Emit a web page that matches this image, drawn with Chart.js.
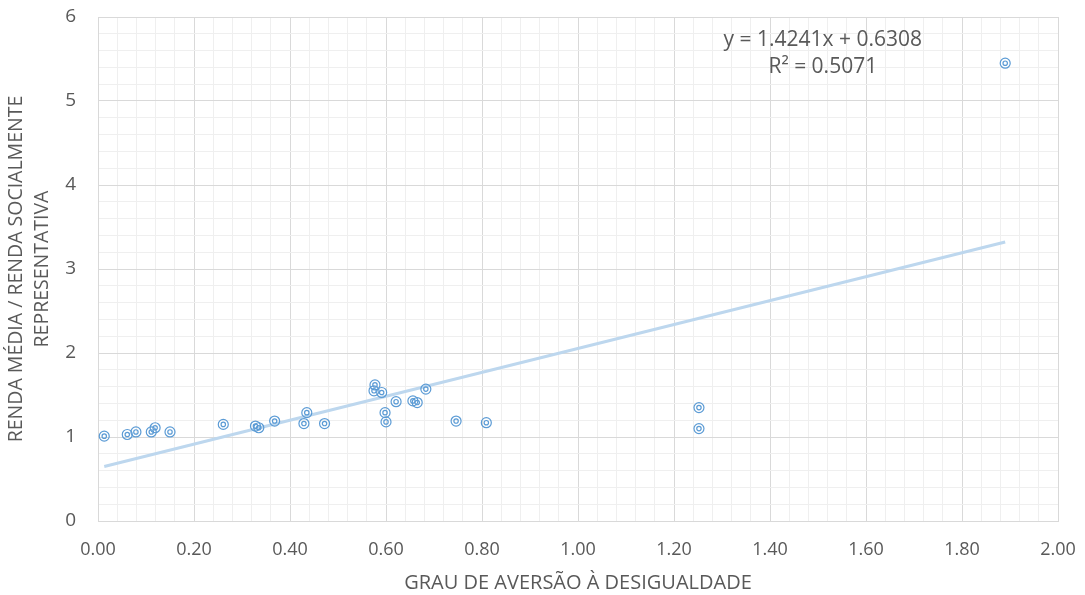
<!DOCTYPE html>
<html>
<head>
<meta charset="utf-8">
<script src="https://cdn.jsdelivr.net/npm/chart.js@4"></script>
<style>
  html, body { margin: 0; padding: 0; background: #fff; }
  #wrap { width: 1085px; height: 595px; }
</style>
</head>
<body>
<div id="wrap"><canvas id="stage"></canvas></div>
<script>
// valores
const aversao = [0.013, 0.061, 0.079, 0.111, 0.119, 0.150, 0.261, 0.328, 0.335, 0.368,
                 0.429, 0.435, 0.472, 0.577, 0.575, 0.591, 0.598, 0.600, 0.621, 0.656,
                 0.665, 0.683, 0.746, 0.809, 1.252, 1.252, 1.890];
const razaoRenda = [1.01, 1.03, 1.06, 1.06, 1.11, 1.06, 1.15, 1.13, 1.11, 1.19,
                    1.16, 1.29, 1.16, 1.62, 1.55, 1.53, 1.29, 1.18, 1.42, 1.43,
                    1.41, 1.57, 1.19, 1.17, 1.35, 1.10, 5.45];
const slope = 1.4241;
const intercept = 0.6308;
const r2 = 0.5071;
const xLimits = [0, 2];
const yLimits = [0, 6];

const pts = aversao.map((x, i) => ({ x: x, y: razaoRenda[i] }));
const xMin = Math.min(...aversao), xMax = Math.max(...aversao);
const trend = [
    { x: xMin, y: slope * xMin + intercept },
    { x: xMax, y: slope * xMax + intercept }
];

const FONT = "'Open Sans', 'Noto Sans', sans-serif";
const TXT = '#595959';

const eqLabel = {
    id: 'eqLabel',
    afterDatasetsDraw(chart) {
        const ctx = chart.ctx;
        const xs = chart.scales.x, ys = chart.scales.y;
        const cx = xs.getPixelForValue(1.51);
        ctx.save();
        ctx.fillStyle = TXT;
        ctx.font = '21px ' + FONT;
        ctx.textAlign = 'center';
        ctx.textBaseline = 'middle';
        ctx.fillText('y = ' + slope.toFixed(4) + 'x + ' + intercept.toFixed(4), cx, ys.getPixelForValue(5.73));
        ctx.fillText('R² = ' + r2.toFixed(4), cx, ys.getPixelForValue(5.41));
        ctx.restore();
    }
};

function isMajor(v, step) {
    return Math.abs(v / step - Math.round(v / step)) < 1e-6;
}

new Chart(document.getElementById('stage'), {
    type: 'scatter',
    data: {
        datasets: [{
            label: 'tendência',
            type: 'line',
            data: trend,
            borderColor: '#bdd7ee',
            borderWidth: 3,
            pointRadius: 0,
            fill: false,
            order: 3
        }, {
            label: 'dados',
            data: pts,
            pointStyle: 'circle',
            pointRadius: 5,
            pointBorderWidth: 1.2,
            pointBorderColor: '#5b9bd5',
            pointBackgroundColor: 'rgba(255,255,255,0)',
            order: 2
        }, {
            label: 'dados2',
            data: pts,
            pointStyle: 'circle',
            pointRadius: 2.2,
            pointBorderWidth: 1.2,
            pointBorderColor: '#5b9bd5',
            pointBackgroundColor: 'rgba(255,255,255,0)',
            order: 1
        }]
    },
    options: {
        responsive: true,
        maintainAspectRatio: false,
        animation: false,
        layout: { padding: { left: 0, right: 27, top: 17, bottom: 0 } },
        plugins: { legend: { display: false }, tooltip: { enabled: false } },
        scales: {
            x: {
                type: 'linear',
                min: xLimits[0], max: xLimits[1],
                afterFit: s => { s.height = 74; s.paddingLeft = 0; s.paddingRight = 0; },
                ticks: {
                    stepSize: 0.04,
                    autoSkip: false,
                    maxRotation: 0,
                    color: TXT,
                    font: { family: FONT, size: 18 },
                    padding: 18,
                    callback: v => isMajor(v, 0.2) ? v.toFixed(2) : ''
                },
                grid: {
                    color: c => isMajor(c.tick.value, 0.2) ? '#d9d9d9' : '#efefef',
                    drawTicks: false
                },
                border: { color: '#d9d9d9' },
                title: {
                    display: true,
                    text: 'GRAU DE AVERSÃO À DESIGUALDADE',
                    color: TXT,
                    font: { family: FONT, size: 20 },
                    padding: { top: 0, bottom: 0 }
                }
            },
            y: {
                type: 'linear',
                min: yLimits[0], max: yLimits[1],
                afterFit: s => { s.width = 98; s.paddingTop = 0; s.paddingBottom = 0; },
                ticks: {
                    stepSize: 0.2,
                    autoSkip: false,
                    color: TXT,
                    font: { family: FONT, size: 19 },
                    padding: 22,
                    callback: v => isMajor(v, 1) ? String(Math.round(v)) : ''
                },
                grid: {
                    color: c => isMajor(c.tick.value, 1) ? '#d9d9d9' : '#efefef',
                    drawTicks: false
                },
                border: { color: '#d9d9d9' },
                title: {
                    display: true,
                    text: ['RENDA MÉDIA / RENDA SOCIALMENTE', 'REPRESENTATIVA'],
                    color: TXT,
                    font: { family: FONT, size: 19.5, lineHeight: 1.35 },
                    padding: { top: 3, bottom: 0 }
                }
            }
        }
    },
    plugins: [eqLabel]
});
</script>
</body>
</html>
